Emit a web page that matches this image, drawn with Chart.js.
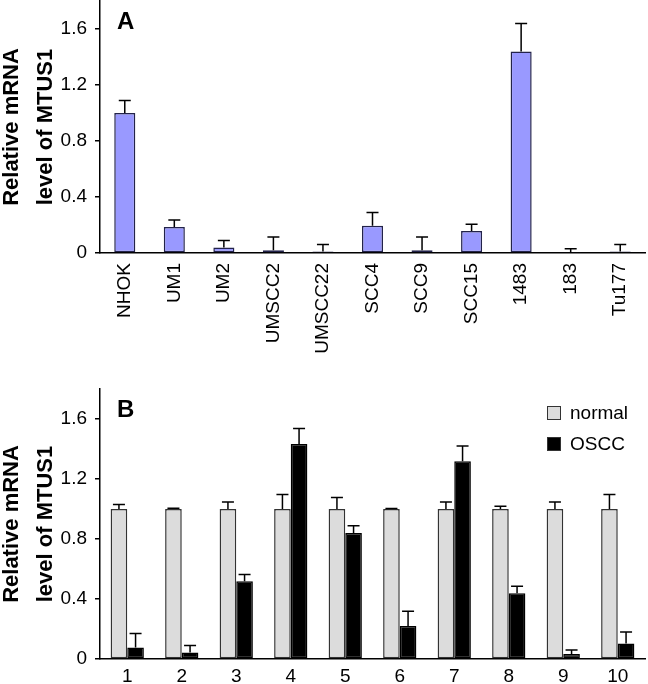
<!DOCTYPE html>
<html><head><meta charset="utf-8">
<script src="https://cdn.jsdelivr.net/npm/chart.js@4/dist/chart.umd.min.js"></script>
<style>
html,body{margin:0;padding:0;background:#fff;}
#wrapA{position:absolute;left:0;top:0;width:648px;height:360px;}
#wrapB{position:absolute;left:0;top:360px;width:648px;height:324px;}
</style></head><body>
<div id="wrapA"><canvas id="cA" width="648" height="360"></canvas></div>
<div id="wrapB"><canvas id="cB" width="648" height="324"></canvas></div>
<script>
// ---- Data ----
const cellLines = ['NHOK','UM1','UM2','UMSCC2','UMSCC22','SCC4','SCC9','SCC15','1483','183','Tu177'];
const levelsA   = [1.0, 0.186, 0.04, 0.02, 0.01, 0.195, 0.02, 0.157, 1.44, 0.003, 0.01];
const errorsA   = [0.09, 0.05, 0.05, 0.095, 0.05, 0.095, 0.095, 0.048, 0.2, 0.027, 0.05];

const samplesB  = ['1','2','3','4','5','6','7','8','9','10'];
const normalB   = [1, 1, 1, 1, 1, 1, 1, 1, 1, 1];
const normalErrB= [0.03, 0.005, 0.047, 0.096, 0.076, 0.003, 0.047, 0.018, 0.047, 0.096];
const osccB     = [0.076, 0.043, 0.518, 1.433, 0.84, 0.22, 1.318, 0.438, 0.033, 0.103];
const osccErrB  = [0.094, 0.047, 0.045, 0.103, 0.049, 0.098, 0.102, 0.047, 0.027, 0.077];

const yTicks = [0, 0.4, 0.8, 1.2, 1.6];
const yMax = 1.8;
const yTitle = ['Relative mRNA', 'level of MTUS1'];

const FONT = '"Liberation Sans", Arial, sans-serif';

// ---- Plugins ----
const errorBarPlugin = {
  id: 'errbars',
  afterDatasetsDraw(chart) {
    const ctx = chart.ctx, ys = chart.scales.y;
    ctx.save();
    ctx.strokeStyle = '#000';
    ctx.lineWidth = 1.5;
    chart.data.datasets.forEach((ds, di) => {
      const meta = chart.getDatasetMeta(di);
      meta.data.forEach((bar, i) => {
        const v = ds.data[i], e = ds.errors[i];
        const x = bar.x, y0 = ys.getPixelForValue(v), y1 = ys.getPixelForValue(v + e);
        ctx.beginPath();
        ctx.moveTo(x, y0); ctx.lineTo(x, y1);
        ctx.moveTo(x - 6, y1); ctx.lineTo(x + 6, y1);
        ctx.stroke();
      });
    });
    ctx.restore();
  }
};

function letterPlugin(letter) {
  return {
    id: 'letter' + letter,
    afterDraw(chart) {
      const ctx = chart.ctx, ca = chart.chartArea;
      ctx.save();
      ctx.fillStyle = '#000';
      ctx.font = 'bold 24px ' + FONT;
      ctx.textBaseline = 'alphabetic';
      ctx.fillText(letter, ca.left + 17, ca.top + 28);
      ctx.restore();
    }
  };
}

const legendPlugin = {
  id: 'innerLegend',
  afterDraw(chart) {
    const ctx = chart.ctx, ca = chart.chartArea;
    ctx.save();
    chart.data.datasets.forEach((ds, i) => {
      const bx = ca.right - 98, by = ca.top + 17 + i * 31;
      ctx.fillStyle = ds.backgroundColor;
      ctx.fillRect(bx, by, 14, 14);
      ctx.strokeStyle = '#333';
      ctx.lineWidth = 1;
      ctx.strokeRect(bx + 0.5, by + 0.5, 13, 13);
      ctx.fillStyle = '#000';
      ctx.font = '19px ' + FONT;
      ctx.textBaseline = 'middle';
      ctx.fillText(ds.label, bx + 23, by + 7.5);
    });
    ctx.restore();
  }
};

function yScale() {
  return {
    min: 0, max: yMax,
    afterBuildTicks: s => { s.ticks = yTicks.map(v => ({ value: v })); },
    afterFit: s => { s.width = 100; s.paddingTop = 0; s.paddingBottom = 0; },
    border: { display: true, color: '#000', width: 1.5 },
    grid: { display: true, drawOnChartArea: false, drawTicks: true, tickLength: 5, color: '#000', lineWidth: 1.5 },
    ticks: { color: '#000', font: { family: FONT, size: 19 }, padding: 8, callback: v => String(v) },
    title: { display: true, text: yTitle, color: '#000',
             font: { family: FONT, size: 22, weight: 'bold', lineHeight: 1.55 },
             padding: { top: -5, bottom: 0 } }
  };
}

// ---- Chart A ----
new Chart(document.getElementById('cA'), {
  type: 'bar',
  data: {
    labels: cellLines,
    datasets: [{
      label: 'MTUS1',
      data: levelsA,
      errors: errorsA,
      backgroundColor: '#9999FF',
      borderColor: '#23234a',
      borderWidth: 1.5,
      borderSkipped: false,
      categoryPercentage: 1.0,
      barPercentage: 0.425
    }]
  },
  options: {
    responsive: false,
    animation: false,
    devicePixelRatio: 1,
    layout: { padding: { left: 0, right: 3, top: 1, bottom: 0 } },
    plugins: { legend: { display: false }, tooltip: { enabled: false } },
    scales: {
      x: {
        grid: { display: false, drawTicks: false },
        border: { display: true, color: '#000', width: 1.5 },
        ticks: { color: '#000', font: { family: FONT, size: 19 }, minRotation: 90, maxRotation: 90, padding: 10, autoSkip: false },
        afterFit: s => { s.height = 107; s.paddingLeft = 0; s.paddingRight = 0; }
      },
      y: yScale()
    }
  },
  plugins: [errorBarPlugin, letterPlugin('A')]
});

// ---- Chart B ----
new Chart(document.getElementById('cB'), {
  type: 'bar',
  data: {
    labels: samplesB,
    datasets: [{
      label: 'normal',
      data: normalB,
      errors: normalErrB,
      backgroundColor: '#DCDCDC',
      borderColor: '#333333',
      borderWidth: 1.5,
      borderSkipped: false,
      categoryPercentage: 0.61,
      barPercentage: 1.0
    }, {
      label: 'OSCC',
      data: osccB,
      errors: osccErrB,
      backgroundColor: '#000000',
      borderColor: '#000000',
      borderWidth: 1.5,
      borderSkipped: false,
      categoryPercentage: 0.61,
      barPercentage: 1.0
    }]
  },
  options: {
    responsive: false,
    animation: false,
    devicePixelRatio: 1,
    layout: { padding: { left: 0, right: 3, top: 29, bottom: 0 } },
    plugins: { legend: { display: false }, tooltip: { enabled: false } },
    scales: {
      x: {
        grid: { display: false, drawTicks: false },
        border: { display: true, color: '#000', width: 1.5 },
        ticks: { color: '#000', font: { family: FONT, size: 19 }, maxRotation: 0, padding: 6, autoSkip: false },
        afterFit: s => { s.height = 25; s.paddingLeft = 0; s.paddingRight = 0; }
      },
      y: yScale()
    }
  },
  plugins: [errorBarPlugin, letterPlugin('B'), legendPlugin]
});
</script>
</body></html>
